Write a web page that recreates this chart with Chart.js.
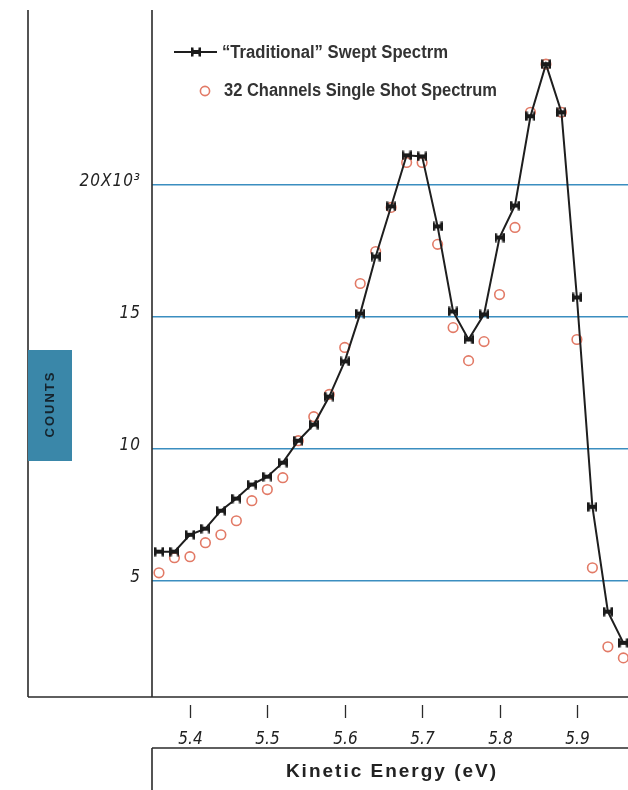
<!DOCTYPE html>
<html>
<head>
<meta charset="utf-8">
<script src="https://cdn.jsdelivr.net/npm/chart.js@4/dist/chart.umd.min.js"></script>
<style>
  html, body { margin: 0; padding: 0; background: #ffffff; }
  #wrap { position: relative; width: 628px; height: 790px; overflow: hidden; }
  canvas { display: block; }
</style>
</head>
<body>
<div id="wrap"><canvas id="spectrum" width="628" height="790"></canvas></div>
<script>
// Kinetic energy of each sample (eV)
const energy = [5.36, 5.38, 5.40, 5.42, 5.44, 5.46, 5.48, 5.50, 5.52, 5.54, 5.56,
                5.58, 5.60, 5.62, 5.64, 5.66, 5.68, 5.70, 5.72, 5.74, 5.76, 5.78,
                5.80, 5.82, 5.84, 5.86, 5.88, 5.90, 5.92, 5.94, 5.96];

// Counts in thousands
const sweptCounts = [6.10, 6.10, 6.74, 6.97, 7.65, 8.11, 8.64, 8.94, 9.47, 10.30, 10.91,
                     11.97, 13.30, 15.11, 17.27, 19.17, 21.10, 21.06, 18.41, 15.19, 14.13, 15.08,
                     17.99, 19.20, 22.58, 24.55, 22.73, 15.72, 7.80, 3.83, 2.65];

const singleShotCounts = [5.30, 5.87, 5.91, 6.44, 6.74, 7.27, 8.03, 8.45, 8.90, 10.30, 11.21,
                          12.05, 13.83, 16.25, 17.46, 19.13, 20.83, 20.83, 17.73, 14.58, 13.33, 14.05,
                          15.83, 18.37, 22.73, 24.55, 22.73, 14.13, 5.49, 2.50, 2.08];

const xTicks = [5.4, 5.5, 5.6, 5.7, 5.8, 5.9];
const xTickLabels = ['5.4', '5.5', '5.6', '5.7', '5.8', '5.9'];
const yTicks = [5, 10, 15, 20];
const yTickLabels = ['5', '10', '15', '20X10\u00B3'];

const seriesNames = ['\u201CTraditional\u201D Swept Spectrm', '32 Channels Single Shot Spectrum'];
const xTitle = 'Kinetic Energy (eV)';
const yTitle = 'COUNTS';

const INK = '#2b2b2b';
const GRID = '#3b8ec0';
const RED = '#e27a66';

// bow-tie marker used by the swept spectrum
function bowtie(size, color) {
  const c = document.createElement('canvas');
  c.width = size; c.height = size;
  const g = c.getContext('2d');
  g.fillStyle = color;
  g.beginPath();
  g.moveTo(0, 0.5);
  g.lineTo(size, size - 0.5);
  g.lineTo(size, 0.5);
  g.lineTo(0, size - 0.5);
  g.closePath();
  g.fill();
  g.fillRect(0, 0.5, 2.5, size - 1);
  g.fillRect(size - 2.5, 0.5, 2.5, size - 1);
  g.fillRect(size / 2 - 2.5, size / 2 - 2, 5, 4);
  return c;
}
const tieMarker = bowtie(10, '#1a1a1a');

const toPoints = (xs, ys) => xs.map((x, i) => ({ x: x, y: ys[i] }));

const DIGIT_FONT = 'italic 17px "DejaVu Sans Condensed", "Liberation Sans", sans-serif';
const LABEL_FONT = 'bold 18px "Liberation Sans", Arial, sans-serif';

// condensed text: squeeze a run of text horizontally to a set width
function squeezedText(ctx, text, x, y, width, align) {
  const w = ctx.measureText(text).width;
  const k = Math.min(1, width / w);
  ctx.save();
  ctx.translate(x, y);
  ctx.scale(k, 1);
  ctx.textAlign = align;
  ctx.fillText(text, 0, 0);
  ctx.restore();
}

const decorations = {
  id: 'decorations',
  afterDraw(chart) {
    const ctx = chart.ctx;
    const xs = chart.scales.x, ys = chart.scales.y;
    const area = chart.chartArea;
    ctx.save();

    // frame
    ctx.strokeStyle = INK;
    ctx.lineWidth = 1.6;
    ctx.beginPath();
    ctx.moveTo(28, area.top); ctx.lineTo(28, area.bottom);
    ctx.moveTo(area.left, area.top); ctx.lineTo(area.left, area.bottom);
    ctx.moveTo(28, area.bottom); ctx.lineTo(628, area.bottom);
    ctx.moveTo(area.left, 748); ctx.lineTo(628, 748);
    ctx.moveTo(area.left, 748); ctx.lineTo(area.left, 790);
    ctx.stroke();

    // x ticks and labels
    ctx.lineWidth = 1.3;
    ctx.font = DIGIT_FONT;
    ctx.fillStyle = '#222';
    ctx.textBaseline = 'middle';
    xTicks.forEach((v, i) => {
      const px = Math.round(xs.getPixelForValue(v)) + 0.5;
      ctx.beginPath();
      ctx.moveTo(px, 705); ctx.lineTo(px, 718);
      ctx.stroke();
      squeezedText(ctx, xTickLabels[i], px, 740, 27, 'center');
    });

    // y labels
    yTicks.forEach((v, i) => {
      const py = ys.getPixelForValue(v);
      ctx.letterSpacing = '1px';
      ctx.textAlign = 'right';
      ctx.fillText(yTickLabels[i], 141, py - 3);
      ctx.letterSpacing = '0px';
    });

    // y title box
    ctx.fillStyle = '#3a87a9';
    ctx.fillRect(28, 350, 44, 111);
    ctx.save();
    ctx.translate(50, 405);
    ctx.rotate(-Math.PI / 2);
    ctx.fillStyle = '#15232c';
    ctx.font = 'bold 13px "Liberation Sans", Arial, sans-serif';
    ctx.letterSpacing = '2px';
    ctx.textAlign = 'center';
    ctx.textBaseline = 'middle';
    ctx.fillText(yTitle, 1, 0);
    ctx.restore();

    // x title
    ctx.fillStyle = '#222';
    ctx.font = 'bold 19px "Liberation Sans", Arial, sans-serif';
    ctx.letterSpacing = '2px';
    ctx.textBaseline = 'middle';
    squeezedText(ctx, xTitle, 392, 772, 220, 'center');
    ctx.letterSpacing = '0px';

    // legend
    ctx.strokeStyle = '#1e1e1e';
    ctx.lineWidth = 2;
    ctx.beginPath();
    ctx.moveTo(174, 52); ctx.lineTo(217, 52);
    ctx.stroke();
    ctx.drawImage(tieMarker, 196 - 5, 52 - 5);
    ctx.strokeStyle = RED;
    ctx.lineWidth = 1.6;
    ctx.beginPath();
    ctx.arc(205, 91, 4.6, 0, Math.PI * 2);
    ctx.stroke();
    ctx.fillStyle = '#333';
    ctx.font = LABEL_FONT;
    ctx.textBaseline = 'middle';
    squeezedText(ctx, seriesNames[0], 222, 53, 226, 'left');
    squeezedText(ctx, seriesNames[1], 224, 91, 273, 'left');

    ctx.restore();
  }
};

new Chart(document.getElementById('spectrum'), {
  type: 'scatter',
  data: {
    datasets: [
      {
        label: seriesNames[0],
        data: toPoints(energy, sweptCounts),
        showLine: true,
        borderColor: '#1e1e1e',
        borderWidth: 2,
        pointStyle: tieMarker,
        pointRadius: 5,
        tension: 0
      },
      {
        label: seriesNames[1],
        data: toPoints(energy, singleShotCounts),
        showLine: false,
        pointStyle: 'circle',
        pointRadius: 4.8,
        borderColor: RED,
        borderWidth: 1.6,
        backgroundColor: 'rgba(255,255,255,0)'
      }
    ]
  },
  options: {
    responsive: false,
    animation: false,
    layout: { autoPadding: false, padding: { left: 152, right: 0, top: 10, bottom: 93 } },
    plugins: { legend: { display: false }, tooltip: { enabled: false } },
    scales: {
      x: {
        type: 'linear',
        min: 5.351,
        max: 5.966,
        grid: { display: false },
        border: { display: false },
        ticks: { display: false },
        afterFit(scale) { scale.height = 0; }
      },
      y: {
        type: 'linear',
        min: 0.6,
        max: 26.6,
        afterBuildTicks(scale) { scale.ticks = yTicks.map(v => ({ value: v })); },
        grid: { color: GRID, lineWidth: 1.5, drawTicks: false },
        border: { display: false },
        ticks: { display: false },
        afterFit(scale) { scale.width = 0; }
      }
    }
  },
  plugins: [decorations]
});
</script>
</body>
</html>
